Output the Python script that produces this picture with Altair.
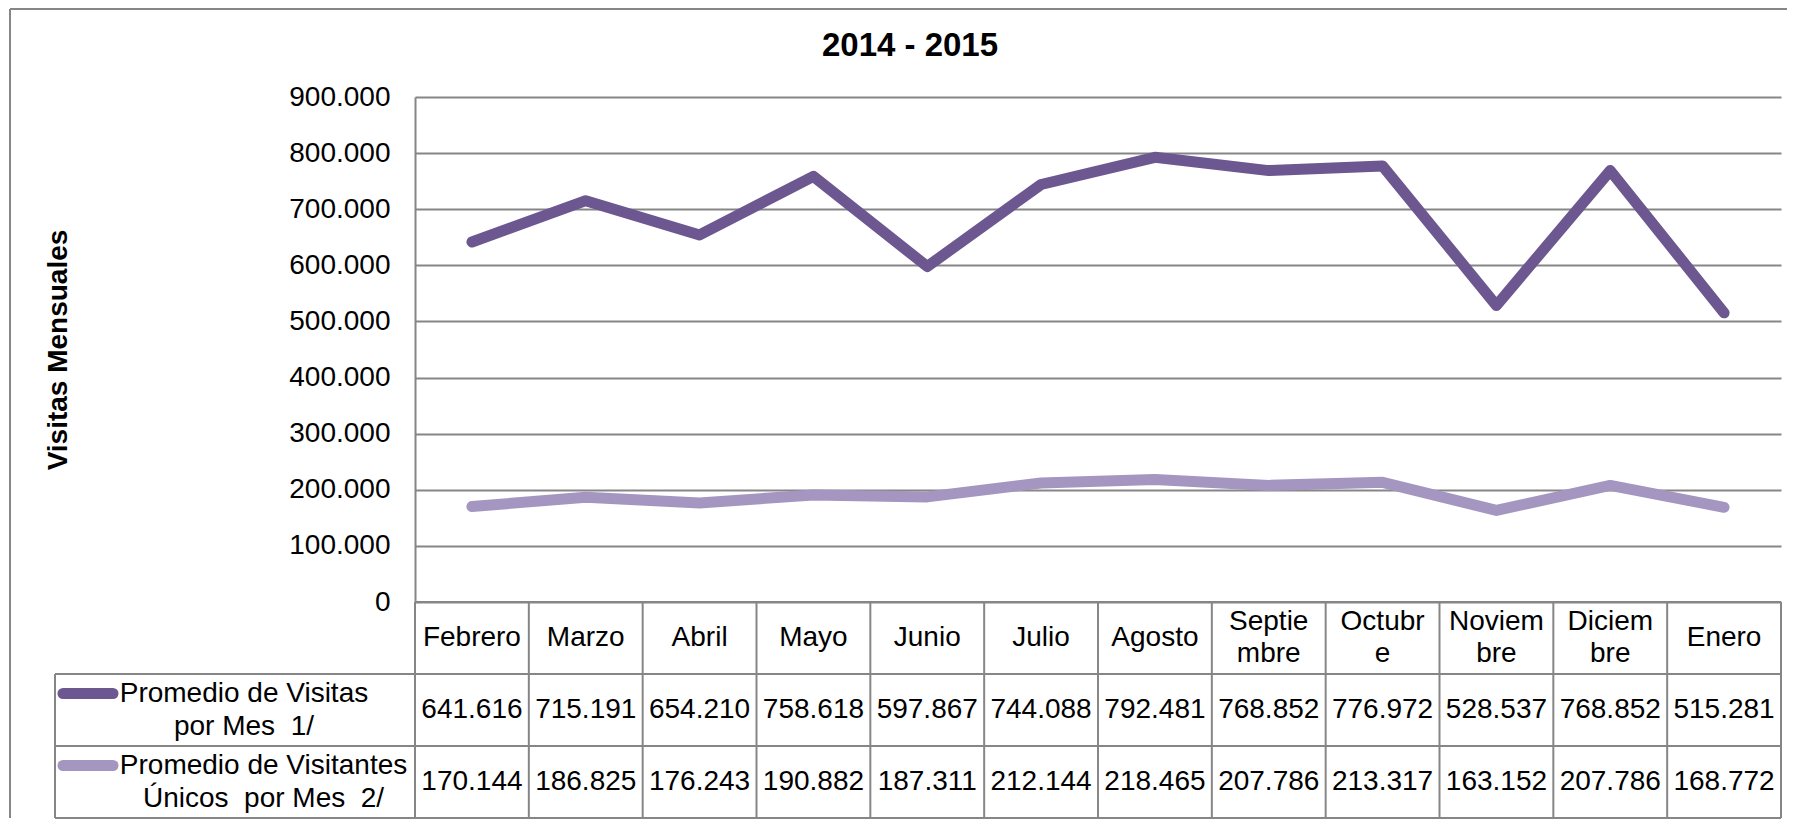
import altair as alt
import pandas as pd

# ---------------- data ----------------
months = ["Febrero", "Marzo", "Abril", "Mayo", "Junio", "Julio", "Agosto",
          "Septiembre", "Octubre", "Noviembre", "Diciembre", "Enero"]
month_headers = ["Febrero", "Marzo", "Abril", "Mayo", "Junio", "Julio", "Agosto",
                 "Septie\nmbre", "Octubr\ne", "Noviem\nbre", "Diciem\nbre", "Enero"]
visitas = [641616, 715191, 654210, 758618, 597867, 744088, 792481,
           768852, 776972, 528537, 768852, 515281]
unicos = [170144, 186825, 176243, 190882, 187311, 212144, 218465,
          207786, 213317, 163152, 207786, 168772]
series_keys = ["visitas", "unicos"]
series_labels = ["Promedio de Visitas\npor Mes \u00a01/",
                 "Promedio de Visitantes\nÚnicos \u00a0por Mes \u00a02/"]
series_colors = ["#6C5790", "#A496C0"]
y_ticks = [0, 100000, 200000, 300000, 400000, 500000, 600000, 700000, 800000, 900000]
chart_title = "2014 - 2015"
y_title = "Visitas Mensuales"

# ---------------- style / layout ----------------
FONT = "Liberation Sans"
GRID = "#868686"
PLOT_W = 1366
PLOT_H = 505
TABLE_H = 216
N = len(months)
COL_PX = PLOT_W / N
LEGEND_COL_PX = 360
ROW_PX = TABLE_H / 3
L = -LEGEND_COL_PX / COL_PX  # left edge of legend column, in column units
HDR_LH = 32
LEG_LH = 33
LINE_W = 11

series_values = {"visitas": visitas, "unicos": unicos}

long_rows = []
for s in series_keys:
    for i, m in enumerate(months):
        long_rows.append({"mes": m, "idx": i, "serie": s, "valor": series_values[s][i]})
df_long = pd.DataFrame(long_rows)

color_scale = alt.Scale(domain=series_keys, range=series_colors)

# ---------------- line chart ----------------
lines = alt.Chart(df_long).mark_line(
    strokeWidth=LINE_W, strokeCap="round", strokeJoin="round"
).encode(
    x=alt.X("mes:N", sort=months, axis=None, scale=alt.Scale(type="point", padding=0.5)),
    y=alt.Y(
        "valor:Q",
        scale=alt.Scale(domain=[0, 900000], nice=False),
        axis=alt.Axis(
            values=y_ticks,
            labelExpr="replace(format(datum.value, ',d'), ',', '.')",
            grid=True, gridColor=GRID, gridWidth=2,
            domain=True, domainColor=GRID, domainWidth=2,
            ticks=False, tickSize=0, labelPadding=25,
            labelFont=FONT, labelFontSize=28, labelColor="black",
            title=y_title, titleFont=FONT, titleFontSize=28, titleFontWeight="bold",
            titleColor="black", titlePadding=216,
        ),
    ),
    color=alt.Color("serie:N", scale=color_scale, legend=None),
)

top = lines.properties(
    width=PLOT_W, height=PLOT_H,
    title=alt.TitleParams(chart_title, font=FONT, fontSize=33, fontWeight="bold",
                          color="black", anchor="middle", dx=-188, offset=20),
)

# ---------------- data table ----------------
xs = alt.Scale(domain=[0, N], nice=False, zero=False)
ys = alt.Scale(domain=[0, 3], nice=False, zero=False, reverse=True)

hl = pd.DataFrame({"y": [0, 1, 2, 3], "x1": [0, L, L, L], "x2": [N] * 4})
vl = pd.DataFrame({"x": list(range(N + 1)) + [L],
                   "y1": [0] * (N + 1) + [1], "y2": [3] * (N + 2)})

hlines = alt.Chart(hl).mark_rule(color=GRID, strokeWidth=2).encode(
    x=alt.X("x1:Q", scale=xs, axis=None), x2="x2:Q",
    y=alt.Y("y:Q", scale=ys, axis=None))
vlines = alt.Chart(vl).mark_rule(color=GRID, strokeWidth=2).encode(
    x=alt.X("x:Q", scale=xs, axis=None),
    y=alt.Y("y1:Q", scale=ys, axis=None), y2="y2:Q")

hdr = pd.DataFrame({"lab": month_headers,
                    "x": [i + 0.5 for i in range(N)], "y": [0.5] * N})
hdr["two"] = hdr["lab"].str.contains("\n")


def header_layer(df, dy):
    return alt.Chart(df).mark_text(
        font=FONT, fontSize=28, color="black", lineBreak="\n", lineHeight=HDR_LH,
        align="center", baseline="middle", dy=dy
    ).encode(x=alt.X("x:Q", scale=xs, axis=None), y=alt.Y("y:Q", scale=ys, axis=None),
             text="lab:N")


headers1 = header_layer(hdr[~hdr["two"]], 0)
headers2 = header_layer(hdr[hdr["two"]], -HDR_LH / 2)

vals = df_long.copy()
vals["x"] = vals["idx"] + 0.5
vals["y"] = vals["serie"].map({k: r + 1.5 for r, k in enumerate(series_keys)})
values_txt = alt.Chart(vals).transform_calculate(
    txt="replace(format(datum.valor, ',d'), ',', '.')"
).mark_text(
    font=FONT, fontSize=28, color="black", align="center", baseline="middle"
).encode(x=alt.X("x:Q", scale=xs, axis=None), y=alt.Y("y:Q", scale=ys, axis=None),
         text="txt:N")

# legend keys + labels (first column)
key_rows = []
for r, (k, lab) in enumerate(zip(series_keys, series_labels)):
    longest = max(len(t) for t in lab.split("\n"))
    est_w = longest * 0.466 * 28
    key_rows.append({
        "serie": k, "lab": lab,
        "kx1": L + 8 / COL_PX, "kx2": L + 58 / COL_PX,
        "ky": r + 1.5 - (LEG_LH / 2) / ROW_PX,
        "tx": L + (65 + est_w / 2) / COL_PX, "ty": r + 1.5,
    })
keys_df = pd.DataFrame(key_rows)

keys = alt.Chart(keys_df).mark_rule(strokeWidth=LINE_W, strokeCap="round").encode(
    x=alt.X("kx1:Q", scale=xs, axis=None), x2="kx2:Q",
    y=alt.Y("ky:Q", scale=ys, axis=None),
    color=alt.Color("serie:N", scale=color_scale, legend=None))
key_text = alt.Chart(keys_df).mark_text(
    font=FONT, fontSize=28, color="black", lineBreak="\n", lineHeight=LEG_LH,
    align="center", baseline="middle", dy=-LEG_LH / 2
).encode(x=alt.X("tx:Q", scale=xs, axis=None), y=alt.Y("ty:Q", scale=ys, axis=None),
         text="lab:N")

# outer chart frame (top and left edges), positioned relative to the table origin
frame = pd.DataFrame({"k": [0]})
border_top = alt.Chart(frame).mark_rule(color=GRID, strokeWidth=2).encode(
    x=alt.value(-405), x2=alt.value(1787 - 415), y=alt.value(-593)
)
border_left = alt.Chart(frame).mark_rule(color=GRID, strokeWidth=2).encode(
    x=alt.value(-405), y=alt.value(-593), y2=alt.value(TABLE_H)
)

table = alt.layer(hlines, vlines, headers1, headers2, values_txt, keys, key_text,
                  border_top, border_left).properties(width=PLOT_W, height=TABLE_H)

chart = alt.vconcat(top, table, spacing=0, bounds="flush").properties(
    padding={"left": 1, "top": 0, "right": 0, "bottom": 0},
    background="white",
).configure_view(stroke=None)

chart.save("out.html", embed_options={"renderer": "svg", "actions": False})
